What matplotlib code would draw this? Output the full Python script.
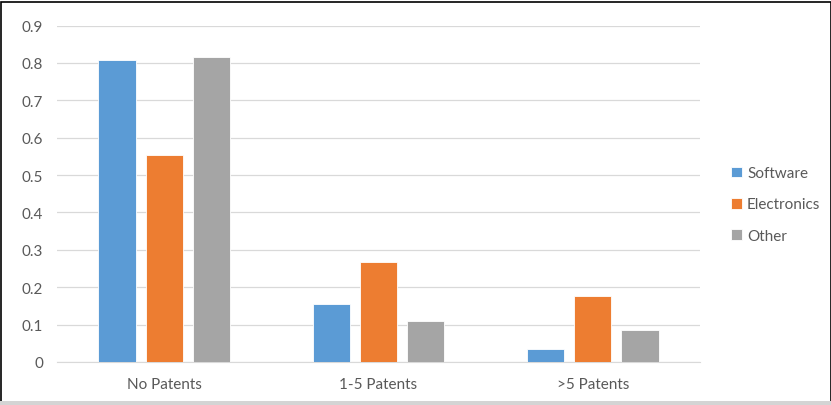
import numpy as np
from matplotlib import pyplot as plt
from matplotlib.patches import Rectangle

# data
categories = ['No Patents', '1-5 Patents', '>5 Patents']
software = [0.807, 0.155, 0.036]
electronics = [0.555, 0.267, 0.177]
other = [0.816, 0.111, 0.086]
series_names = ['Software', 'Electronics', 'Other']
colors = ['#5B9BD5', '#ED7D31', '#A5A5A5']

plt.rcParams['font.family'] = ['Lato', 'DejaVu Sans']
text_col = '#595959'

fig = plt.figure(figsize=(8.31, 4.06), dpi=100)
ax = fig.add_axes([57 / 831, 1 - 363 / 406, 643 / 831, (363 - 26.6) / 406])

x = np.arange(len(categories))
width = 0.173
step = 0.22
for i, (vals, name, c) in enumerate(zip([software, electronics, other], series_names, colors)):
    ax.bar(x + (i - 1) * step, vals, width, color=c, label=name,
           edgecolor='white', linewidth=0.6, zorder=3)

ax.set_xlim(-0.5, 2.5)
ax.set_ylim(0, 0.9)
ax.set_yticks(np.arange(0, 0.91, 0.1))
ax.set_yticklabels(['0'] + ['%.1f' % v for v in np.arange(0.1, 0.91, 0.1)])
ax.set_xticks(x)
ax.set_xticklabels(categories)
ax.grid(axis='y', color='#D9D9D9', linewidth=0.9, zorder=0)
for s in ['top', 'right', 'left']:
    ax.spines[s].set_visible(False)
ax.spines['bottom'].set_color('#D9D9D9')
ax.tick_params(axis='both', length=0, colors=text_col, labelsize=11)
ax.tick_params(axis='y', pad=10)
ax.tick_params(axis='x', pad=11)

leg = fig.legend(loc='center left', bbox_to_anchor=(731 / 831, 1 - 205.5 / 406),
                 frameon=False, fontsize=11, handlelength=0.7, handleheight=0.7,
                 handletextpad=0.35, labelspacing=1.12, borderpad=0, borderaxespad=0)
for t in leg.get_texts():
    t.set_color(text_col)

# screenshot frame
fig.patches.append(Rectangle((0.5 / 831, 0), 1 - 1 / 831, 1 - 3 / 406, transform=fig.transFigure,
                             fill=False, edgecolor='black', linewidth=1.2))
fig.patches.append(Rectangle((0, 0), 1, 4 / 406, transform=fig.transFigure,
                             color='#D4D4D4', linewidth=0))

fig.savefig('out.png', dpi=100)
